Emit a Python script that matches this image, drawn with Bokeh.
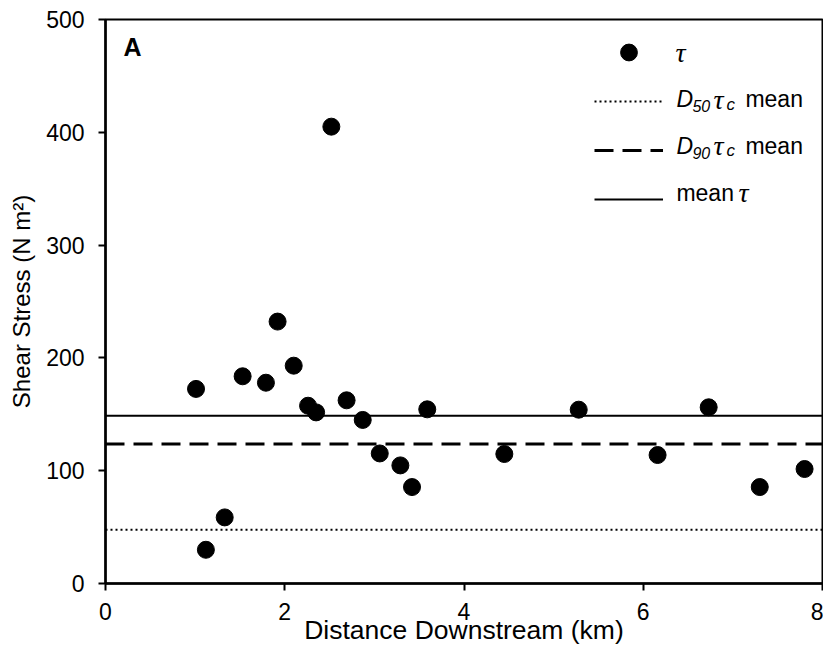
from bokeh.plotting import figure
from bokeh.models import Range1d, FixedTicker, Label, Legend, LegendItem
from bokeh.embed import file_html
from bokeh.resources import INLINE

# ---------------- data ----------------
distance_km = [1.01, 1.12, 1.33, 1.53, 1.79, 1.92, 2.10, 2.26, 2.35, 2.52, 2.69,
               2.87, 3.06, 3.29, 3.42, 3.59, 4.45, 5.28, 6.16, 6.73, 7.30, 7.80]
shear_stress = [172.5, 29.9, 58.6, 183.7, 178.0, 232.2, 193.1, 157.6, 151.7, 405.0, 162.4,
                145.0, 115.3, 104.7, 85.5, 154.4, 114.8, 154.1, 113.9, 156.2, 85.5, 101.5]
d50_tau_c_mean = 47.6
d90_tau_c_mean = 123.7
mean_tau = 148.8
x_ticks = [0, 2, 4, 6, 8]
y_ticks = [0, 100, 200, 300, 400, 500]
x_min, x_max = 0, 8
y_min, y_max = 0, 500

FONT = "Liberation Sans"
SERIF = "Liberation Serif"

p = figure(width=823, height=650, output_backend="svg", toolbar_location=None,
           x_range=Range1d(x_min, x_max), y_range=Range1d(y_min, y_max),
           min_border_left=105, min_border_right=1, min_border_top=19, min_border_bottom=67)

p.background_fill_color = "white"
p.border_fill_color = "white"
p.outline_line_color = "black"
p.outline_line_width = 2
p.xgrid.visible = False
p.ygrid.visible = False

for ax, ticks in ((p.xaxis[0], x_ticks), (p.yaxis[0], y_ticks)):
    ax.ticker = FixedTicker(ticks=ticks)
    ax.minor_tick_line_color = None
    ax.major_tick_in = 0
    ax.major_tick_out = 7
    ax.major_tick_line_width = 2
    ax.axis_line_width = 2.5
    ax.major_label_text_font = FONT
    ax.major_label_text_font_size = "23px"
    ax.major_label_text_color = "black"
    ax.axis_label_text_font = FONT
    ax.axis_label_text_font_style = "normal"
    ax.axis_label_text_color = "black"

p.xaxis.axis_label = "Distance Downstream (km)"
p.yaxis.axis_label = "Shear Stress (N m²)"
p.xaxis.axis_label_text_font_size = "26.5px"
p.yaxis.axis_label_text_font_size = "24px"
p.yaxis.major_label_standoff = 14
p.xaxis.major_label_standoff = 12
p.yaxis.axis_label_standoff = 8
p.xaxis.axis_label_standoff = -8
p.yaxis.major_label_orientation = "horizontal"

# horizontal reference lines
r_d50 = p.segment(x0=x_min, x1=x_max, y0=d50_tau_c_mean, y1=d50_tau_c_mean,
                  line_color="black", line_width=2, line_dash="2 3")
r_d90 = p.segment(x0=x_min, x1=x_max, y0=d90_tau_c_mean, y1=d90_tau_c_mean,
                  line_color="black", line_width=3, line_dash="19 9")
r_mean = p.segment(x0=x_min, x1=x_max, y0=mean_tau, y1=mean_tau,
                   line_color="black", line_width=2)

pts = p.scatter(distance_km, shear_stress, size=17, marker="circle",
                fill_color="black", line_color="black")

legend = Legend(items=[LegendItem(label=" ", renderers=[pts]),
                       LegendItem(label=" ", renderers=[r_d50]),
                       LegendItem(label=" ", renderers=[r_d90]),
                       LegendItem(label=" ", renderers=[r_mean])],
                location=(489, 363), orientation="vertical",
                glyph_width=69, glyph_height=42, spacing=7, padding=0, margin=0,
                label_standoff=0, label_width=0, label_height=0,
                label_text_font_size="2px",
                border_line_alpha=0, background_fill_alpha=0)
p.add_layout(legend)

# legend texts (layout positions in data units)
lx = 6.37
rows_y = [463.6, 422.2, 380.8, 339.1]
RAISE = 8

def lab(text, y, dx=0, dy=0, size="23px", style="italic", font=FONT):
    p.add_layout(Label(x=lx, y=y, x_offset=dx, y_offset=dy + RAISE, text=text,
                       text_font=font, text_font_size=size, text_font_style=style,
                       text_color="black", text_baseline="alphabetic", text_align="left"))

lab("τ", rows_y[0], dx=-1, font=SERIF, size="28px")
for row, sub in ((1, "50"), (2, "90")):
    lab("D", rows_y[row])
    lab(sub, rows_y[row], dx=16, dy=-7, size="16px")
    lab("τ", rows_y[row], dx=37, font=SERIF, size="28px")
    lab("c", rows_y[row], dx=50, dy=-5, size="17px")
    lab("mean", rows_y[row], dx=69, style="normal")
lab("mean", rows_y[3], style="normal")
lab("τ", rows_y[3], dx=62, font=SERIF, size="28px")

# panel letter
p.add_layout(Label(x=0.2, y=468, y_offset=9, text="A", text_font=FONT, text_font_size="25px",
                   text_font_style="bold", text_color="black", text_baseline="alphabetic"))

open("out.html", "w").write(file_html(p, INLINE))
